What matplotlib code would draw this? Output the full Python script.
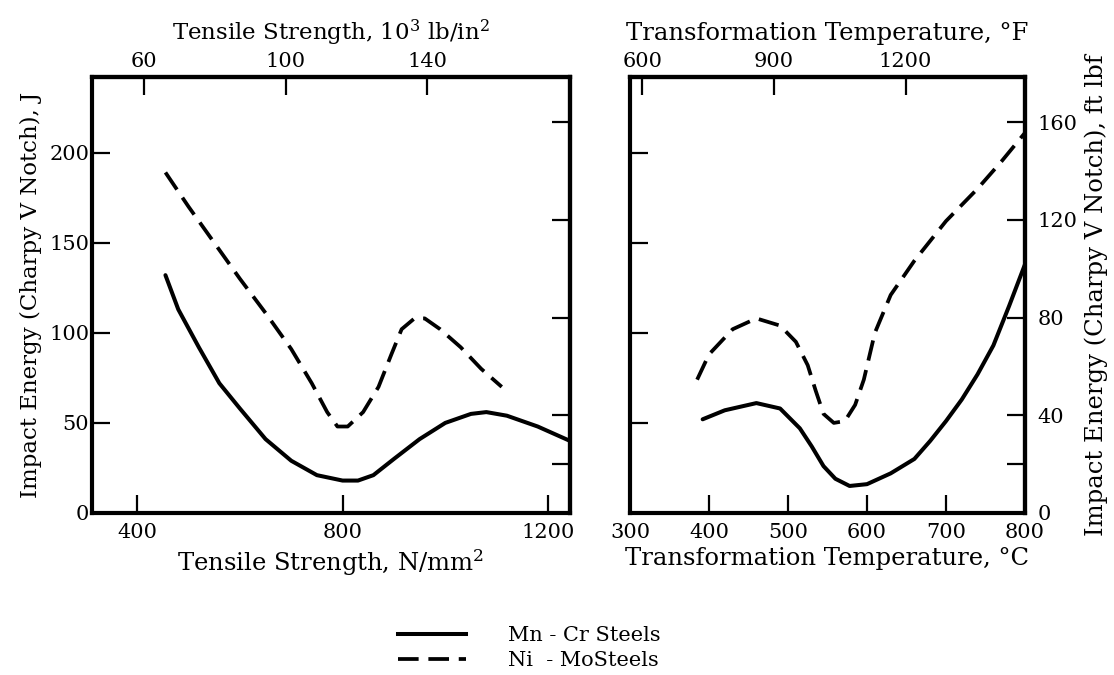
import matplotlib
matplotlib.use("Agg")
import matplotlib.pyplot as plt
from matplotlib.lines import Line2D

plt.rcParams['font.family'] = ['DejaVu Serif']
plt.rcParams['mathtext.fontset'] = 'dejavuserif'

# ---- data ----
ts_mncr = [455, 480, 520, 560, 600, 650, 700, 750, 800, 830, 860, 900, 950, 1000, 1050, 1080, 1120, 1180, 1243]
j_mncr = [132, 113, 92, 72, 58, 41, 29, 21, 18, 18, 21, 30, 41, 50, 55, 56, 54, 48, 40]

ts_nimo = [455, 500, 550, 600, 650, 700, 740, 770, 790, 810, 840, 870, 895, 915, 940, 960, 990, 1030, 1070, 1110]
j_nimo = [189, 170, 150, 130, 111, 91, 72, 56, 48, 48, 56, 70, 88, 102, 108, 108, 102, 92, 80, 70]

tt_mncr = [392, 420, 460, 490, 515, 530, 545, 560, 578, 600, 630, 660, 680, 700, 720, 740, 760, 780, 800]
jt_mncr = [52, 57, 61, 58, 47, 37, 26, 19, 15, 16, 22, 30, 40, 51, 63, 77, 93, 115, 138]

tt_nimo = [385, 400, 430, 460, 490, 510, 525, 535, 545, 558, 572, 585, 596, 610, 630, 660, 700, 740, 770, 800]
jt_nimo = [74, 88, 102, 108, 104, 95, 82, 68, 55, 50, 51, 60, 74, 100, 121, 140, 162, 180, 195, 211]

ts_ticks = [400, 800, 1200]
ksi_ticks = [60, 100, 140]
tc_ticks = [300, 400, 500, 600, 700, 800]
tf_ticks = [600, 900, 1200]
j_ticks = [0, 50, 100, 150, 200]
ftlbf_ticks = [0, 20, 40, 80, 120, 160]
ftlbf_labels = ['0', '', '40', '80', '120', '160']

labels = ['Mn - Cr Steels', 'Ni  - MoSteels']

# ---- figure ----
fig = plt.figure(figsize=(11.14, 6.75), dpi=100)
axL = fig.add_axes([0.0826, 0.240, 0.4291, 0.646])
axR = fig.add_axes([0.5655, 0.240, 0.3546, 0.646])

FS = 15
FL = 17.5
LW_SP = 3.0
TL = 13
TW = 1.6
lw_solid = 2.9
lw_dash = 2.7
dash = (5.5, 2.6)

for ax in (axL, axR):
    for s in ax.spines.values():
        s.set_linewidth(LW_SP)
    ax.set_ylim(0, 242)
    ax.tick_params(direction='in', length=TL, width=TW, labelsize=FS,
                   top=False, right=False)

# Left panel
axL.plot(ts_mncr, j_mncr, color='black', lw=lw_solid, solid_capstyle='round')
axL.plot(ts_nimo, j_nimo, color='black', lw=lw_dash, dashes=dash)
axL.set_xlim(312, 1243)
axL.set_xticks(ts_ticks)
axL.set_yticks(j_ticks)
axL.tick_params(axis='x', pad=7)
axL.tick_params(axis='y', pad=2)
axL.set_xlabel('Tensile Strength, N/mm$^2$', fontsize=FL, labelpad=4)
axL.set_ylabel('Impact Energy (Charpy V Notch), J', fontsize=16.5, labelpad=5)

topL = axL.secondary_xaxis('top', functions=(lambda n: n / 6.895, lambda k: k * 6.895))
topL.set_xticks(ksi_ticks)
topL.tick_params(direction='in', length=TL, width=TW, labelsize=FS, pad=4)
topL.spines['top'].set_linewidth(LW_SP)
topL.set_xlabel('Tensile Strength, 10$^3$ lb/in$^2$', fontsize=16.5, labelpad=9)

rightL = axL.secondary_yaxis('right', functions=(lambda j: j * 0.7376, lambda f: f / 0.7376))
rightL.set_yticks(ftlbf_ticks)
rightL.tick_params(direction='in', length=TL, width=TW, labelright=False)
rightL.spines['right'].set_linewidth(LW_SP)

# Right panel
axR.plot(tt_mncr, jt_mncr, color='black', lw=lw_solid, solid_capstyle='round')
axR.plot(tt_nimo, jt_nimo, color='black', lw=lw_dash, dashes=dash)
axR.set_xlim(300, 800)
axR.set_xticks(tc_ticks)
axR.set_yticks(j_ticks)
axR.tick_params(axis='y', labelleft=False)
axR.tick_params(axis='x', pad=7)
axR.set_xlabel('Transformation Temperature, °C', fontsize=FL, labelpad=4)

topR = axR.secondary_xaxis('top', functions=(lambda c: c * 9 / 5 + 32, lambda f: (f - 32) * 5 / 9))
topR.set_xticks(tf_ticks)
topR.tick_params(direction='in', length=TL, width=TW, labelsize=FS, pad=4)
topR.spines['top'].set_linewidth(LW_SP)
topR.set_xlabel('Transformation Temperature, °F', fontsize=FL, labelpad=9)

rightR = axR.secondary_yaxis('right', functions=(lambda j: j * 0.7376, lambda f: f / 0.7376))
rightR.set_yticks(ftlbf_ticks)
rightR.set_yticklabels(ftlbf_labels)
rightR.tick_params(direction='in', length=TL, width=TW, labelsize=FS, pad=9)
rightR.spines['right'].set_linewidth(LW_SP)
rightR.set_ylabel('Impact Energy (Charpy V Notch), ft lbf', fontsize=17.5,
                  labelpad=5, rotation=90)

handles = [Line2D([], [], color='black', lw=lw_solid),
           Line2D([], [], color='black', lw=lw_dash, dashes=dash)]
fig.legend(handles, labels, loc='center', bbox_to_anchor=(0.475, 0.040),
           frameon=False, fontsize=FS, handlelength=3.3, handletextpad=2.0,
           labelspacing=0.3)

fig.savefig('out.png', dpi=100)
